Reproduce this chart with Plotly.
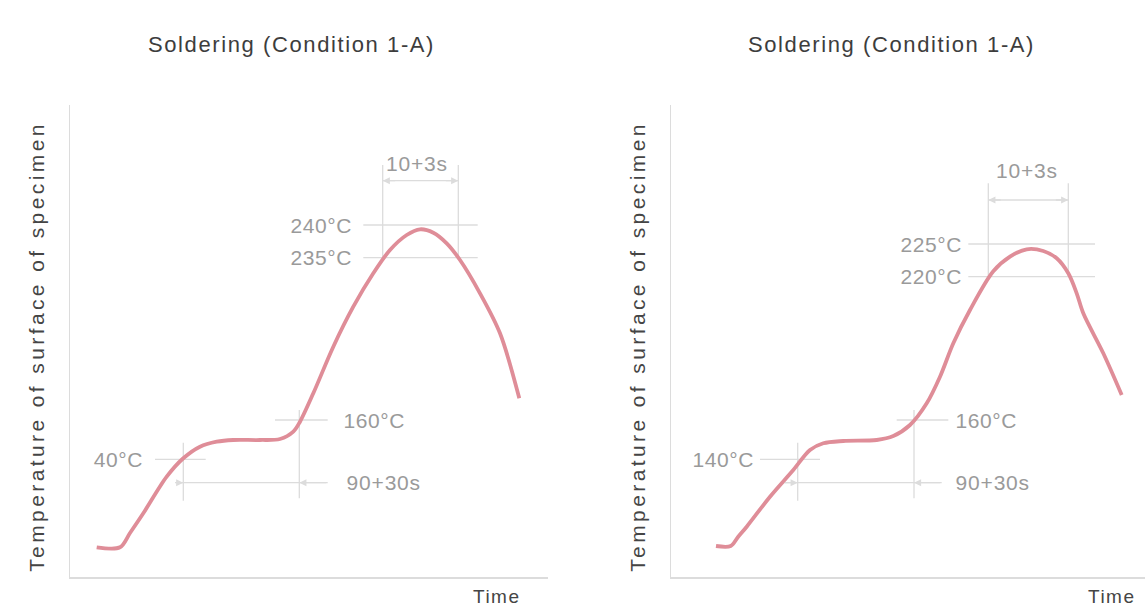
import plotly.graph_objects as go

# ---------------- data (schematic units: time u, temperature level v) ----------------
left_time = [26.7, 50, 60, 73.3, 96.7, 113.3, 130, 146.7, 163.3, 190, 210, 223.3, 230, 243.3,
             263.3, 283.3, 303.3, 320, 336.7, 350, 363.3, 376.7, 390, 410, 430, 449.3]
left_level = [29.7, 29.7, 44, 63.7, 100.3, 118.7, 130.3, 135.3, 137, 137, 138, 145.3, 155.3, 183.7,
              230.3, 270.3, 303.7, 327, 342, 347.7, 344.3, 333.7, 317, 283.7, 243.7, 178.7]

right_time = [45, 59.7, 67, 75.7, 99, 122.3, 139, 152.3, 172.3, 205.7, 222.3, 239, 255.7, 269,
              282.3, 299, 322.3, 339, 355.7, 372.3, 385.7, 397.3, 405.7, 412.3, 432.3, 450.7]
right_level = [31, 31, 40, 50.3, 80.3, 107, 127, 133.7, 136, 137, 141, 152, 173.7, 200.3,
               233.7, 267, 305.7, 320.3, 327.7, 326, 318.7, 303.7, 283.7, 263.7, 223.7, 182]

title_text = "Soldering (Condition 1-A)"
ytitle_text = "Temperature of surface of specimen"
xtitle_text = "Time"

# reference marks per panel: (label, level)
left_peak_marks = [("240°C", 352), ("235°C", 319.3)]
right_peak_marks = [("225°C", 333), ("220°C", 300.3)]
left_low_marks = [("40°C", 117.7), ("160°C", 157)]
right_low_marks = [("140°C", 117.7), ("160°C", 157)]
dwell_labels = ["90+30s", "10+3s"]

LINE = "#dcdcdc"
TXT = "#9a9a9a"
CURVE = "#df8d98"
FONT = "Liberation Sans, Arial, sans-serif"

W, H = 1145, 607

fig = go.Figure()

panels = [
    dict(xa="x", ya="y", t=left_time, v=left_level, peak=left_peak_marks, low=left_low_marks,
         peak_line=(293.3, 407.7), peak_lab_u=251.5, peak_vert=(312.7, 388.3), peak_top=412,
         arrow_v=396.3, top_lab=(346.7, 413.7),
         hi_line=(205, 257.7), hi_lab_u=304.8, hi_vert=229.3,
         lo_line=(85, 135.7), lo_lab_u=48, lo_vert=113.3,
         dwell_v=94.3, dwell_ends=(105, 257.7), dwell_lab_u=313),
    dict(xa="x2", ya="y2", t=right_time, v=right_level, peak=right_peak_marks, low=right_low_marks,
         peak_line=(297.3, 424), peak_lab_u=260.3, peak_vert=(317.3, 397.3), peak_top=393.7,
         arrow_v=377, top_lab=(355.7, 407),
         hi_line=(225.7, 277.3), hi_lab_u=315.7, hi_vert=243,
         lo_line=(89, 149), lo_lab_u=52.8, lo_vert=126.7,
         dwell_v=94.3, dwell_ends=(112.3, 270.7), dwell_lab_u=321.8),
]

shapes = []
annotations = []


def seg(xa, ya, x0, y0, x1, y1, w=1.3):
    shapes.append(dict(type="line", xref=xa, yref=ya, x0=x0, y0=y0, x1=x1, y1=y1,
                       line=dict(color=LINE, width=w), layer="below"))


def label(xa, ya, text, x, y, size=21):
    annotations.append(dict(xref=xa, yref=ya, x=x, y=y, text=text, showarrow=False,
                            xanchor="center", yanchor="middle",
                            font=dict(family=FONT, size=size, color=TXT)))


def arrow(xa, ya, hx, hy, tx, ty):
    annotations.append(dict(xref=xa, yref=ya, x=hx, y=hy, axref=xa, ayref=ya, ax=tx, ay=ty,
                            text="", showarrow=True, arrowhead=2, arrowsize=1.1,
                            arrowwidth=1.3, arrowcolor=LINE, standoff=0, startstandoff=0))


for p in panels:
    xa, ya = p["xa"], p["ya"]
    fig.add_trace(go.Scatter(x=p["t"], y=p["v"], mode="lines", xaxis=xa, yaxis=ya,
                             line=dict(color=CURVE, width=3.8, shape="spline", smoothing=0.9),
                             hoverinfo="skip", showlegend=False))
    # peak marks
    for lab, lev in p["peak"]:
        seg(xa, ya, p["peak_line"][0], lev, p["peak_line"][1], lev)
        label(xa, ya, lab, p["peak_lab_u"], lev)
    low_peak = p["peak"][1][1]
    for u in p["peak_vert"]:
        seg(xa, ya, u, low_peak, u, p["peak_top"])
    a0, a1 = p["peak_vert"]
    seg(xa, ya, a0, p["arrow_v"], a1, p["arrow_v"])
    arrow(xa, ya, a0, p["arrow_v"], a0 + 14, p["arrow_v"])
    arrow(xa, ya, a1, p["arrow_v"], a1 - 14, p["arrow_v"])
    label(xa, ya, dwell_labels[1], p["top_lab"][0], p["top_lab"][1])
    # low marks
    lo_lab, lo_lev = p["low"][0]
    hi_lab, hi_lev = p["low"][1]
    seg(xa, ya, p["lo_line"][0], lo_lev, p["lo_line"][1], lo_lev)
    label(xa, ya, lo_lab, p["lo_lab_u"], lo_lev)
    seg(xa, ya, p["lo_vert"], 76.3, p["lo_vert"], 134.3)
    seg(xa, ya, p["hi_line"][0], hi_lev, p["hi_line"][1], hi_lev)
    label(xa, ya, hi_lab, p["hi_lab_u"], hi_lev)
    seg(xa, ya, p["hi_vert"], 78.7, p["hi_vert"], 167)
    # dwell arrow
    dv = p["dwell_v"]
    seg(xa, ya, p["dwell_ends"][0], dv, p["dwell_ends"][1], dv)
    arrow(xa, ya, p["lo_vert"], dv, p["dwell_ends"][0], dv)
    arrow(xa, ya, p["hi_vert"], dv, p["dwell_ends"][1], dv)
    label(xa, ya, dwell_labels[0], p["dwell_lab_u"], dv)

# panel titles / axis titles (paper coordinates)
for cx in (291.5 / W, 891.5 / W):
    annotations.append(dict(xref="paper", yref="paper", x=cx, y=1 - 45 / H, text=title_text,
                            showarrow=False, xanchor="center", yanchor="middle",
                            font=dict(family=FONT, size=22, color="#3d3d3d")))
for cx in (36 / W, 637 / W):
    annotations.append(dict(xref="paper", yref="paper", x=cx, y=1 - 347 / H, text=ytitle_text,
                            showarrow=False, xanchor="center", yanchor="middle", textangle=-90,
                            font=dict(family=FONT, size=21, color="#454545")))
for cx in (497 / W, 1112 / W):
    annotations.append(dict(xref="paper", yref="paper", x=cx, y=1 - 596 / H, text=xtitle_text,
                            showarrow=False, xanchor="center", yanchor="middle",
                            font=dict(family=FONT, size=19, color="#454545")))

ydom = [30 / H, 502 / H]
axis_common = dict(showgrid=False, zeroline=False, showticklabels=False, ticks="",
                   showline=True, linecolor=LINE, linewidth=1.5, fixedrange=True)
fig.update_layout(
    width=W, height=H, margin=dict(l=0, r=0, t=0, b=0),
    paper_bgcolor="white", plot_bgcolor="white", showlegend=False,
    xaxis=dict(domain=[70 / W, 548 / W], range=[0, 478], anchor="y", **axis_common),
    yaxis=dict(domain=ydom, range=[0, 472], anchor="x", **axis_common),
    xaxis2=dict(domain=[671 / W, 1.0], range=[0, 474], anchor="y2", **axis_common),
    yaxis2=dict(domain=ydom, range=[0, 472], anchor="x2", **axis_common),
    shapes=shapes, annotations=annotations,
)

post = """
(function(){
  document.body.style.margin = '0';
  document.body.style.overflow = 'hidden';
  var spacing = {"Soldering (Condition 1-A)": "1.6px", "Temperature of surface of specimen": "3.4px",
                 "Time": "1.5px", "90+30s": "0.8px", "10+3s": "0.8px"};
  function apply(){
    var gd = document.getElementById('{plot_id}');
    if(!gd) return;
    gd.querySelectorAll('text.annotation-text').forEach(function(t){
      var k = t.textContent;
      if (spacing[k]) t.style.letterSpacing = spacing[k];
      else if (k.indexOf('\\u00b0C') >= 0) t.style.letterSpacing = '0.6px';
    });
  }
  apply();
  setTimeout(apply, 30);
})();
"""

fig.write_html("out.html", post_script=post, config={"staticPlot": True})
